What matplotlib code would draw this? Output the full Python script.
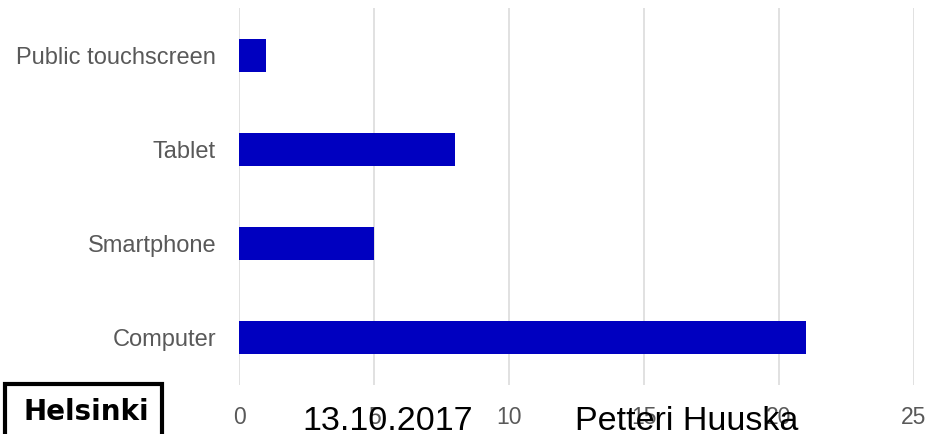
import matplotlib
matplotlib.use("Agg")
import matplotlib.pyplot as plt
from matplotlib.patches import Rectangle

categories = ["Computer", "Smartphone", "Tablet", "Public touchscreen"]
values = [21, 5, 8, 1]
xticks = [0, 5, 10, 15, 20, 25]
footer_date = "13.10.2017"
footer_author = "Petteri Huuska"
logo_text = "Helsinki"

plt.rcParams['font.family'] = ['Liberation Sans', 'DejaVu Sans']

W, H = 927, 434
fig = plt.figure(figsize=(W / 100, H / 100), dpi=100)
ax = fig.add_axes([239 / W, 1 - 385 / H, 675 / W, 377 / H])

ax.barh(range(len(categories)), values, height=0.35, color="#0000C0", zorder=3)
ax.set_xlim(0, 25)
ax.set_ylim(-0.5, len(categories) - 0.5)
ax.set_yticks(range(len(categories)))
ax.set_yticklabels(categories)
ax.set_xticks(xticks)
ax.set_xticklabels([str(t) for t in xticks])
ax.tick_params(axis='y', length=0, pad=16.5, labelsize=17, labelcolor="#595959")
ax.tick_params(axis='x', length=0, pad=15, labelsize=16.5, labelcolor="#595959")
ax.grid(axis='x', color="#d9d9d9", linewidth=1.1, zorder=0)
ax.set_axisbelow(True)
for s in ax.spines.values():
    s.set_visible(False)

# footer
fig.text(388 / W, 1 - 430 / H, footer_date, fontsize=24.5, color="black",
         ha="center", va="baseline")
fig.text(575 / W, 1 - 430 / H, footer_author, fontsize=24.5, color="black",
         ha="left", va="baseline")
rect = Rectangle((5 / W, -0.05), 157 / W, (0.05 + 1 - 384 / H), transform=fig.transFigure,
                 fill=False, edgecolor="black", linewidth=3, zorder=5)
fig.patches.append(rect)
fig.text(86 / W, 1 - 420 / H, logo_text, fontsize=20, fontweight="bold",
         family=["DejaVu Sans"], color="black", ha="center", va="baseline")

fig.savefig("out.png", dpi=100)
